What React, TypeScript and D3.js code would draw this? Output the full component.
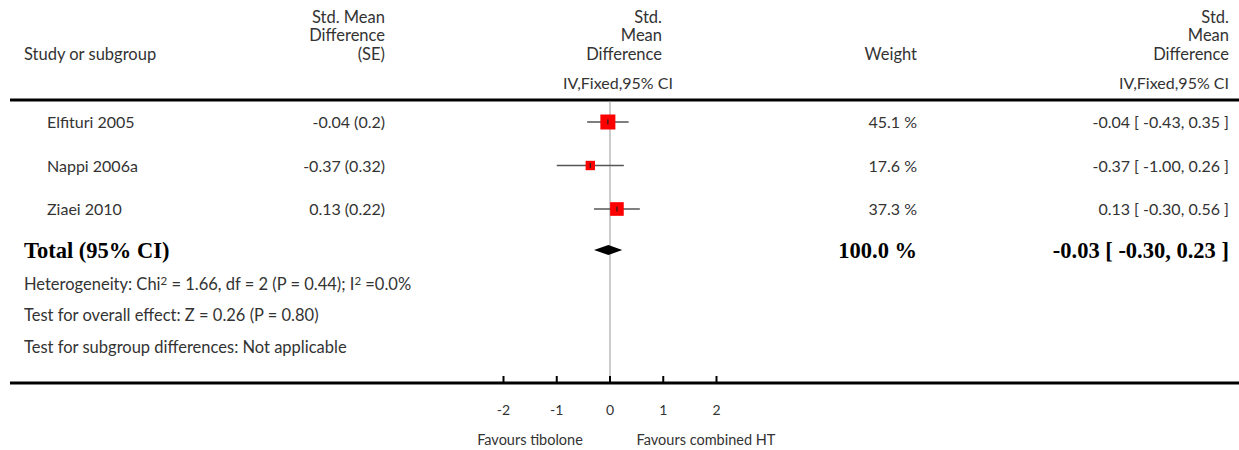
import React from "react";
import * as d3 from "d3";

const studies = ["Elfituri 2005", "Nappi 2006a", "Ziaei 2010"];
const smd = [-0.04, -0.37, 0.13];
const se = ["0.2", "0.32", "0.22"];
const ciLow = [-0.43, -1.0, -0.3];
const ciHigh = [0.35, 0.26, 0.56];
const weights = [45.1, 17.6, 37.3];
const total = { est: -0.03, low: -0.3, high: 0.23, weight: 100.0 };
const axisTicks = [-2, -1, 0, 1, 2];
const tickLabels = ["-2", "-1", "0", "1", "2"];

const W = 1239;
const H = 450;
const FONT = "Lato, 'Open Sans', sans-serif";
const SERIF = "'Liberation Serif', 'DejaVu Serif', serif";
const TXT = "#333";

export default function App() {
  const x = d3.scaleLinear().domain([-2, 2]).range([503.5, 716.5]);
  const rowY = d3.scalePoint<string>().domain(studies).range([122, 209]);
  const boxSize = d3.scaleSqrt().domain([0, 45.1]).range([0, 15]);
  const fmt = (v: number) => v.toFixed(2);
  const fs = 16.5;
  const fsNum = 16;

  const hdrL = 385;
  const hdrM = 662;
  const hdrW = 917;
  const hdrR = 1229;
  const bold = { fontFamily: SERIF, fontWeight: "bold", fontSize: 22.5, fill: "#000" } as const;

  return (
    <svg width={W} height={H} style={{ position: "absolute", left: 0, top: 0, background: "#fff" }} fontFamily={FONT} fontSize={fs} fill={TXT}>
      {/* headers */}
      <text x={24} y={60}>Study or subgroup</text>
      <g textAnchor="end">
        <text x={hdrL} y={23}>Std. Mean</text>
        <text x={hdrL} y={41}>Difference</text>
        <text x={hdrL} y={60}>(SE)</text>
        <text x={hdrM} y={23}>Std.</text>
        <text x={hdrM} y={41}>Mean</text>
        <text x={hdrM} y={60}>Difference</text>
        <text x={hdrW} y={60}>Weight</text>
        <text x={hdrR} y={23}>Std.</text>
        <text x={hdrR} y={41}>Mean</text>
        <text x={hdrR} y={60}>Difference</text>
        <text x={hdrR} y={89} fontSize={fsNum}>IV,Fixed,95% CI</text>
      </g>
      <text x={618} y={89} textAnchor="middle" fontSize={fsNum}>IV,Fixed,95% CI</text>
      <line x1={10} x2={W} y1={100} y2={100} stroke="#000" strokeWidth={3} />

      {/* zero line */}
      <line x1={x(0)} x2={x(0)} y1={101} y2={383} stroke="#999" strokeWidth={1} />

      {/* study rows */}
      {studies.map((s, i) => {
        const y = rowY(s)!;
        const b = boxSize(weights[i]);
        return (
          <g key={s}>
            <text x={47} y={y + 6} fontSize={fsNum}>{s}</text>
            <text x={hdrL} y={y + 6} fontSize={fsNum} textAnchor="end">{`${fmt(smd[i])} (${se[i]})`}</text>
            <text x={hdrW} y={y + 6} fontSize={fsNum} textAnchor="end">{`${weights[i].toFixed(1)} %`}</text>
            <text x={hdrR} y={y + 6} fontSize={fsNum} textAnchor="end">{`${fmt(smd[i])} [ ${fmt(ciLow[i])}, ${fmt(ciHigh[i])} ]`}</text>
            <line x1={x(ciLow[i])} x2={x(ciHigh[i])} y1={y} y2={y} stroke="#555" strokeWidth={1.5} />
            <rect x={x(smd[i]) - b / 2} y={y - b / 2} width={b} height={b} fill="#ff0000" />
            <line x1={x(smd[i])} x2={x(smd[i])} y1={y - 2.5} y2={y + 2.5} stroke="#222" strokeWidth={1.2} />
          </g>
        );
      })}

      {/* total */}
      <text x={24} y={258} {...bold}>Total (95% CI)</text>
      <text x={hdrW} y={258} {...bold} textAnchor="end">{`${total.weight.toFixed(1)} %`}</text>
      <text x={hdrR} y={258} {...bold} textAnchor="end">{`${fmt(total.est)} [ ${fmt(total.low)}, ${fmt(total.high)} ]`}</text>
      <path
        d={`M${x(total.low)},250 L${x(total.est)},245 L${x(total.high)},250 L${x(total.est)},255 Z`}
        fill="#000"
      />

      <text x={24} y={290}>
        Heterogeneity: Chi<tspan dy={-5} fontSize={11.5}>2</tspan>
        <tspan dy={5}> = 1.66, df = 2 (P = 0.44); I</tspan>
        <tspan dy={-5} fontSize={11.5}>2</tspan>
        <tspan dy={5}> =0.0%</tspan>
      </text>
      <text x={24} y={321}>Test for overall effect: Z = 0.26 (P = 0.80)</text>
      <text x={24} y={353}>Test for subgroup differences: Not applicable</text>

      {/* axis */}
      <line x1={10} x2={W} y1={383} y2={383} stroke="#000" strokeWidth={3} />
      {axisTicks.map((t, i) => (
        <g key={t}>
          <line x1={x(t)} x2={x(t)} y1={376} y2={383} stroke="#000" strokeWidth={2} />
          <text x={x(t)} y={415} textAnchor="middle" fontSize={14}>{tickLabels[i]}</text>
        </g>
      ))}
      <text x={530} y={445} textAnchor="middle" fontSize={14.5}>Favours tibolone</text>
      <text x={706} y={445} textAnchor="middle" fontSize={14.5}>Favours combined HT</text>
    </svg>
  );
}
